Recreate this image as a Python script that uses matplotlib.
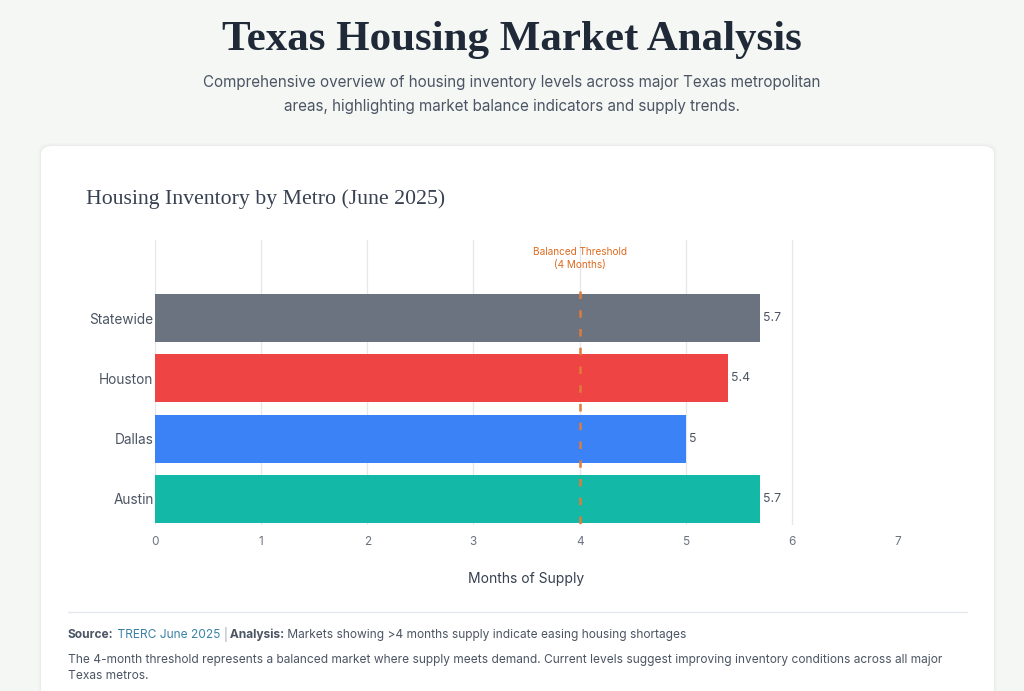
import matplotlib
matplotlib.use("Agg")
import matplotlib.pyplot as plt
from matplotlib.patches import FancyBboxPatch
from matplotlib.lines import Line2D

metros = ["Statewide", "Houston", "Dallas", "Austin"]
months_supply = [5.7, 5.4, 5.0, 5.7]
bar_colors = ["#6b7280", "#ef4444", "#3b82f6", "#14b8a6"]
threshold = 4
x_ticks = [0, 1, 2, 3, 4, 5, 6, 7]

W, H = 1024, 691
fig = plt.figure(figsize=(W / 100, H / 100), dpi=100)
fig.patch.set_facecolor("#f5f7f5")

def fx(x):
    return x / W

def fy(y):
    return 1 - y / H

SANS = ["Inter", "DejaVu Sans"]
SERIF = ["Liberation Serif", "DejaVu Serif"]

# card with soft shadow
for i, a in enumerate([0.012, 0.012, 0.015]):
    d = 3 - i
    fig.patches.append(FancyBboxPatch((fx(41 - d), fy(720)), fx(953 + 2 * d), (574 + d) / H,
                                      boxstyle="round,pad=0,rounding_size=0.013",
                                      transform=fig.transFigure, facecolor="#000000",
                                      alpha=a, edgecolor="none", zorder=0))
fig.patches.append(FancyBboxPatch((fx(41), fy(720)), fx(953), 574 / H,
                                  boxstyle="round,pad=0,rounding_size=0.012",
                                  transform=fig.transFigure, facecolor="white",
                                  edgecolor="none", zorder=1))

# header
fig.text(0.5, fy(40), "Texas Housing Market Analysis", ha="center", va="center",
         fontsize=31, fontweight="bold", color="#1f2937", family=SERIF)
fig.text(0.5, fy(82), "Comprehensive overview of housing inventory levels across major Texas metropolitan",
         ha="center", va="center", fontsize=10.95, color="#4b5563", family=SANS)
fig.text(0.5, fy(106), "areas, highlighting market balance indicators and supply trends.",
         ha="center", va="center", fontsize=10.95, color="#4b5563", family=SANS)

# chart title
fig.text(fx(86), fy(199), "Housing Inventory by Metro (June 2025)", ha="left", va="center",
         fontsize=15.7, color="#374151", family=SERIF, zorder=3)

# axes
ax = fig.add_axes([fx(155), fy(525), fx(898 - 155), (525 - 240) / H], zorder=2)
ax.set_facecolor("none")
ypos = list(range(len(metros)))
bars = ax.barh(ypos, months_supply, height=0.8, color=bar_colors, zorder=2)
ax.set_xlim(0, 7)
ax.set_ylim(3.431, -1.293)
for x in x_ticks[:-1]:
    ax.axvline(x, color="#e5e7eb", linewidth=0.9, zorder=1)
ax.set_xticks(x_ticks)
ax.set_xticklabels([str(t) for t in x_ticks], fontsize=8.5, color="#6b7280", family=SANS)
ax.set_yticks(ypos)
ax.set_yticklabels(metros, fontsize=9.8, color="#4b5563", family=SANS)
ax.tick_params(axis="both", length=0)
ax.tick_params(axis="x", pad=8)
ax.tick_params(axis="y", pad=1)
for s in ax.spines.values():
    s.set_visible(False)
ax.set_xlabel("Months of Supply", fontsize=10, color="#374151", family=SANS, labelpad=17)

for yb, v in zip(ypos, months_supply):
    ax.text(v + 0.03, yb, f"{v:g}", ha="left", va="center", fontsize=8.8,
            color="#4b5563", family=SANS, zorder=4)

ax.plot([threshold, threshold], [-0.45, 3.431], color="#e07b39", linewidth=1.8,
        linestyle=(0, (3, 4.5)), zorder=4, solid_capstyle="butt")
ax.text(threshold, -0.99, "Balanced Threshold\n(4 Months)", ha="center", va="center",
        fontsize=7.2, color="#dd6b20", family=SANS, linespacing=1.35, zorder=4)

# footer divider
fig.add_artist(Line2D([fx(68), fx(967)], [fy(612), fy(612)], color="#e5e7eb",
                      linewidth=1, transform=fig.transFigure, zorder=3))

fs = 8.6
t1 = fig.text(fx(68), fy(635), "Source:", ha="left", va="center", fontsize=fs,
              fontweight="bold", color="#4b5563", family=SANS, zorder=3)
t2 = fig.text(0, 0, " TRERC June 2025 ", fontsize=fs, color="#3b82a6", family=SANS, zorder=3)
t3 = fig.text(0, 0, "|", fontsize=fs, color="#9ca3af", family=SANS, zorder=3)
t4 = fig.text(0, 0, " Analysis:", fontsize=fs, fontweight="bold", color="#4b5563", family=SANS, zorder=3)
t5 = fig.text(0, 0, " Markets showing >4 months supply indicate easing housing shortages",
              fontsize=fs, color="#4b5563", family=SANS, zorder=3)
fig.canvas.draw()
r = fig.canvas.get_renderer()
prev = t1
for t in [t2, t3, t4, t5]:
    bb = prev.get_window_extent(renderer=r)
    t.set_x(bb.x1 / fig.bbox.width)
    t.set_y(prev.get_position()[1])
    t.set_va("center")
    t.set_ha("left")
    fig.canvas.draw()
    prev = t

fig.text(fx(68), fy(660), "The 4-month threshold represents a balanced market where supply meets demand. "
         "Current levels suggest improving inventory conditions across all major",
         ha="left", va="center", fontsize=fs, color="#4b5563", family=SANS, zorder=3)
fig.text(fx(68), fy(676), "Texas metros.", ha="left", va="center", fontsize=fs,
         color="#4b5563", family=SANS, zorder=3)

fig.savefig("out.png", dpi=100, facecolor=fig.get_facecolor())
